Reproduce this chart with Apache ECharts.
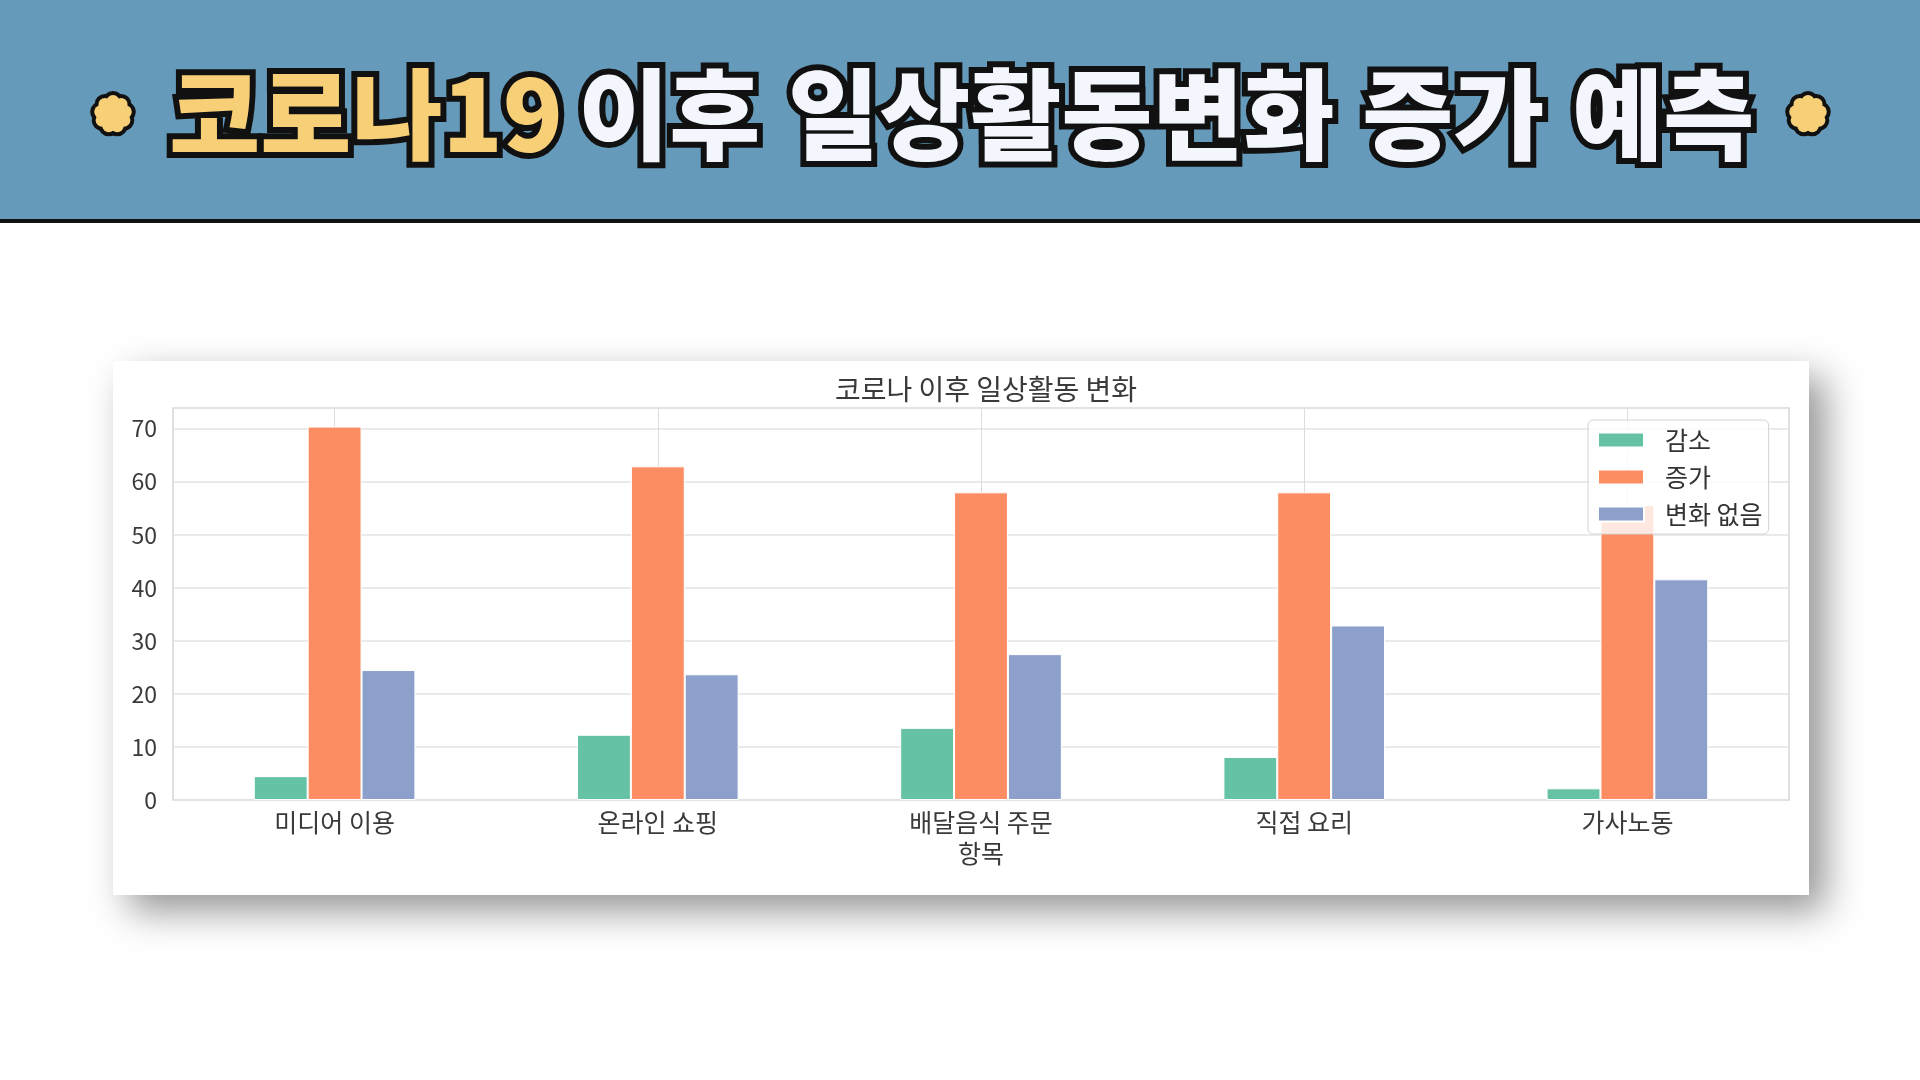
<!DOCTYPE html>
<html lang="ko" style="height: 100%">
<head>
  <meta charset="utf-8" />
  <title>코로나19 이후 일상활동변화 증가 예측</title>
</head>
<body style="height: 100%; margin: 0; background: #fff">
  <div id="container" style="width: 1920px; height: 1080px"></div>

  <script src="https://cdn.jsdelivr.net/npm/echarts@6/dist/echarts.min.js"></script>
  <script>
    // 항목 / 응답 비율 (%)
    const categories = ['미디어 이용', '온라인 쇼핑', '배달음식 주문', '직접 요리', '가사노동'];
    const seriesNames = ['감소', '증가', '변화 없음'];
    const decrease = [4.5, 12.3, 13.6, 8.1, 2.2];
    const increase = [70.4, 62.9, 58.0, 58.0, 55.6];
    const noChange = [24.5, 23.7, 27.5, 32.9, 41.6];
    const colors = ['#66c2a5', '#fc8d62', '#8da0cb'];

    const FONT = '"Noto Sans CJK KR", "Noto Sans", sans-serif';

    // 꽃 모양 아이콘 (꽃잎 원 + 가운데 원)
    function flower(cx, cy) {
      const petals = 9, d = 12.5, r = 6.5;
      const outline = [], fills = [];
      for (let i = 0; i < petals; i++) {
        const a = (Math.PI * 2 * i) / petals - Math.PI / 2;
        const shape = { cx: cx + d * Math.cos(a), cy: cy + d * Math.sin(a), r: r };
        outline.push({ type: 'circle', shape: shape, style: { fill: '#111', stroke: '#111', lineWidth: 8 }, z: 10 });
        fills.push({ type: 'circle', shape: shape, style: { fill: '#f7cf77' }, z: 11 });
      }
      fills.push({ type: 'circle', shape: { cx: cx, cy: cy, r: 12.5 }, style: { fill: '#f7cf77' }, z: 12 });
      return outline.concat(fills);
    }

    const headText = '{y|코로나19} {w|이후 일상활동변화 증가 예측}';
    const headFont = { fontSize: 99, fontWeight: 900, fontFamily: FONT };

    var dom = document.getElementById('container');
    var myChart = echarts.init(dom);

    var option = {
      color: colors,
      animation: false,
      textStyle: { fontFamily: FONT },
      title: {
        text: '코로나 이후 일상활동 변화',
        left: 981,
        top: 370,
        textAlign: 'center',
        textStyle: { fontSize: 28, fontWeight: 'normal', color: '#3a3a3a', fontFamily: FONT }
      },
      legend: {
        orient: 'vertical',
        left: 1588,
        top: 420,
        padding: [7, 6, 7, 9],
        itemWidth: 46,
        itemHeight: 15,
        itemGap: 11,
        icon: 'rect',
        backgroundColor: 'rgba(255,255,255,0.8)',
        borderColor: '#d4d4d4',
        borderWidth: 1,
        borderRadius: 5,
        textStyle: { fontSize: 25, color: '#333', lineHeight: 26, padding: [0, 0, 0, 16], fontFamily: FONT },
        data: seriesNames
      },
      grid: {
        left: 173,
        top: 408,
        width: 1616,
        height: 392,
        show: true,
        borderColor: '#d6d6d6',
        borderWidth: 1.5,
        backgroundColor: 'transparent'
      },
      xAxis: {
        type: 'category',
        data: categories,
        name: '항목',
        nameLocation: 'middle',
        nameGap: 41,
        nameTextStyle: { fontSize: 25, color: '#3a3a3a', fontFamily: FONT },
        axisLine: { show: false },
        axisTick: { show: false },
        axisLabel: { fontSize: 25, color: '#3a3a3a', margin: 10, fontFamily: FONT },
        splitLine: { show: true, alignWithLabel: true, lineStyle: { color: '#dcdcdc', width: 1 } }
      },
      yAxis: {
        type: 'value',
        min: 0,
        max: 73.9,
        interval: 10,
        axisLine: { show: false },
        axisTick: { show: false },
        axisLabel: { fontSize: 23, color: '#3a3a3a', margin: 16, showMaxLabel: false, fontFamily: FONT },
        splitLine: { lineStyle: { color: '#e3e3e3', width: 1.5 } }
      },
      series: [
        { name: seriesNames[0], type: 'bar', data: decrease, barWidth: '16.67%', barGap: '0%',
          itemStyle: { borderColor: '#fff', borderWidth: 1 } },
        { name: seriesNames[1], type: 'bar', data: increase, barWidth: '16.67%', barGap: '0%',
          itemStyle: { borderColor: '#fff', borderWidth: 1 } },
        { name: seriesNames[2], type: 'bar', data: noChange, barWidth: '16.67%', barGap: '0%',
          itemStyle: { borderColor: '#fff', borderWidth: 1 } }
      ],
      graphic: {
        elements: [
          // 상단 배너
          { type: 'rect', shape: { x: 0, y: 0, width: 1920, height: 219 }, style: { fill: '#659aba' }, z: 1 },
          { type: 'rect', shape: { x: 0, y: 219, width: 1920, height: 4 }, style: { fill: '#111' }, z: 1 },
          // 제목 외곽선 (뒤)
          { type: 'text', x: 958, y: 114, z: 10,
            style: Object.assign({ text: headText, align: 'center', verticalAlign: 'middle',
              fill: '#111', stroke: '#111', lineWidth: 12,
              rich: { y: Object.assign({ fill: '#111', stroke: '#111', lineWidth: 12 }, headFont),
                      w: Object.assign({ fill: '#111', stroke: '#111', lineWidth: 12 }, headFont) } }, headFont) },
          // 제목 (앞)
          { type: 'text', x: 958, y: 114, z: 11,
            style: Object.assign({ text: headText, align: 'center', verticalAlign: 'middle', fill: '#fff',
              rich: { y: Object.assign({ fill: '#f7cf77' }, headFont),
                      w: Object.assign({ fill: '#f3f7fd' }, headFont) } }, headFont) },
          // 차트 카드
          { type: 'rect', shape: { x: 113, y: 361, width: 1696, height: 534 }, z: -10,
            style: { fill: '#fff', shadowBlur: 36, shadowOffsetX: 16, shadowOffsetY: 16, shadowColor: 'rgba(0,0,0,0.42)' } }
        ].concat(flower(113, 114), flower(1808, 114))
      }
    };

    myChart.setOption(option);

    window.onresize = function() {
      myChart.resize();
    };
  </script>
</body>
</html>
